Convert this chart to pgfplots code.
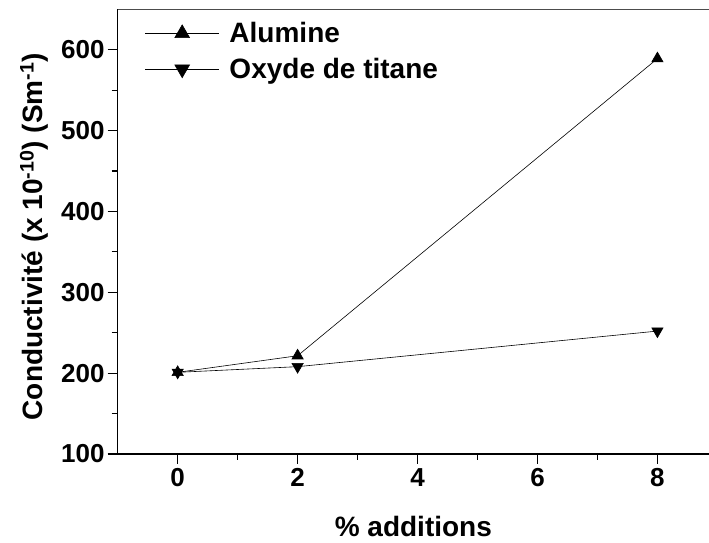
\documentclass[border=0pt]{standalone}
\usepackage{fontspec}
\setmainfont{Liberation Sans}
\usepackage{pgfplots}
\pgfplotsset{compat=1.18}
\begin{document}
\begin{tikzpicture}
\begin{axis}[
  scale only axis,
  width=591.3pt, height=444.7pt,
  xmin=-1, xmax=8.86, ymin=100, ymax=650,
  axis lines*=left,
  axis line style={line width=1.6pt},
  xtick={0,2,4,6,8}, ytick={100,200,300,400,500,600},
  minor x tick num=1, minor y tick num=1,
  tick align=outside,
  major tick length=10pt, minor tick length=6pt,
  every tick/.style={black, line width=1.2pt},
  /pgf/number format/assume math mode=true,
  ticklabel style={font=\fontsize{26}{29}\selectfont\bfseries},
  yticklabel style={inner sep=3pt},
  xticklabel style={inner sep=4pt},
  xlabel={\% additions},
  ylabel={Conductivité (x 10\textsuperscript{-10}) (Sm\textsuperscript{-1})},
  label style={font=\fontsize{28}{31}\selectfont\bfseries},
  xlabel style={at={(rel axis cs:0.5,0)}, anchor=base, yshift=-83pt},
  ylabel style={at={(rel axis cs:0,0.5)}, anchor=base, yshift=75pt, xshift=-5pt},
  legend style={at={(rel axis cs:0,1)}, anchor=north west, xshift=27pt, yshift=-11pt,
    draw=none, fill=none, font=\fontsize{28}{31}\selectfont\bfseries,
    cells={anchor=west}, row sep=10pt, inner sep=0pt},
  legend image code/.code={\draw[mark repeat=2,mark phase=2,line width=0.6pt,mark size=8.5pt] plot coordinates {(0pt,0pt)(37pt,0pt)(74pt,0pt)};
    \path (82pt,0pt);},
]
\draw[line width=1.4pt, black!70] (rel axis cs:0,1) -- (rel axis cs:1,1);
\addplot[black, line width=0.6pt, mark=triangle*, mark size=6.5pt, mark options={solid}] coordinates {(0,201) (2,221.5) (8,589)};
\addlegendentry{Alumine}
\addplot[black, line width=0.6pt, mark=triangle*, mark size=6.5pt, mark options={solid, rotate=180}] coordinates {(0,201) (2,208) (8,252)};
\addlegendentry{Oxyde de titane}
\end{axis}
\pgfresetboundingbox
\path ([xshift=-117.7pt,yshift=-89pt]current axis.south west) rectangle ([yshift=9.3pt]current axis.north east);
\end{tikzpicture}
\end{document}
